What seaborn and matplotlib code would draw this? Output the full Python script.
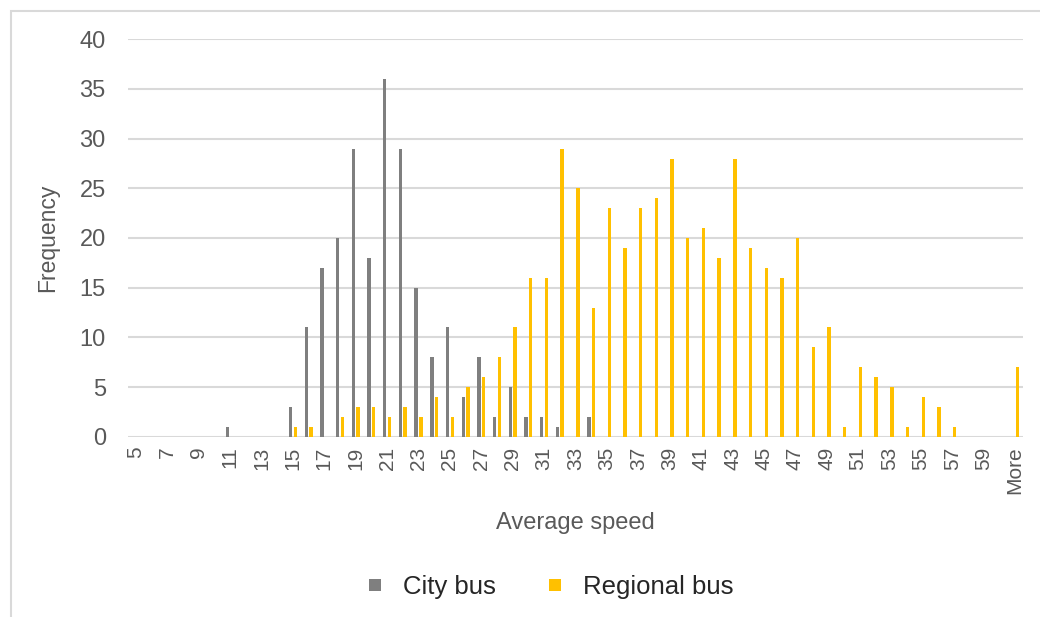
import matplotlib
matplotlib.use("Agg")
import matplotlib.pyplot as plt
from matplotlib.lines import Line2D
from matplotlib.patches import Rectangle
import pandas as pd
import seaborn as sns

# Histogram bins of average speed (km/h), last bin collects everything above 60
speed_bins = [str(v) for v in range(5, 61)] + ["More"]

city_bus = [
    0, 0, 0, 0, 0, 0, 1, 0, 0, 0,      # 5-14
    3, 11, 17, 20, 29, 18, 36, 29, 15, 8,  # 15-24
    11, 4, 8, 2, 5, 2, 2, 1, 0, 2,     # 25-34
    0, 0, 0, 0, 0, 0, 0, 0, 0, 0,      # 35-44
    0, 0, 0, 0, 0, 0, 0, 0, 0, 0,      # 45-54
    0, 0, 0, 0, 0, 0, 0,               # 55-60, More
]

regional_bus = [
    0, 0, 0, 0, 0, 0, 0, 0, 0, 0,      # 5-14
    1, 1, 0, 2, 3, 3, 2, 3, 2, 4,      # 15-24
    2, 5, 6, 8, 11, 16, 16, 29, 25, 13,  # 25-34
    23, 19, 23, 24, 28, 20, 21, 18, 28, 19,  # 35-44
    17, 16, 20, 9, 11, 1, 7, 6, 5, 1,  # 45-54
    4, 3, 1, 0, 0, 0, 7,               # 55-60, More
]

series_names = ["City bus", "Regional bus"]
palette = {"City bus": "#7F7F7F", "Regional bus": "#FFC000"}

df = pd.DataFrame({
    "speed": speed_bins * 2,
    "freq": city_bus + regional_bus,
    "bus": [series_names[0]] * len(speed_bins) + [series_names[1]] * len(speed_bins),
})

sns.set_theme(style="white")
plt.rcParams["font.family"] = ["Liberation Sans", "DejaVu Sans"]

W, H = 1040, 617
fig = plt.figure(figsize=(W / 100, H / 100), dpi=100)
ax = fig.add_axes([128 / W, 1 - 436.7 / H, (1023 - 128) / W, (436.7 - 39.3) / H])

sns.barplot(
    data=df, x="speed", y="freq", hue="bus", order=speed_bins,
    hue_order=series_names, palette=palette, width=0.6, gap=0.28,
    saturation=1, ax=ax, legend=False, linewidth=0,
)

ax.set_xlim(-0.5, len(speed_bins) - 0.5)
ax.set_ylim(0, 40)
ax.set_yticks(range(0, 41, 5))
ax.yaxis.grid(True, color="#D9D9D9", linewidth=1.5)
ax.set_axisbelow(True)
for s in ax.spines.values():
    s.set_visible(False)

ax.set_xticks(range(0, len(speed_bins), 2))
ax.set_xticklabels(speed_bins[::2], rotation=90)
ax.tick_params(axis="x", length=0, pad=7, labelsize=15, labelcolor="#595959")
ax.tick_params(axis="y", length=0, pad=16, labelsize=17, labelcolor="#595959")

ax.set_xlabel("Average speed", fontsize=17, color="#595959")
ax.xaxis.set_label_coords(0.5, (436.7 - 512) / (436.7 - 39.3))
ax.set_ylabel("Frequency", fontsize=16.5, color="#595959")
ax.yaxis.set_label_coords((59 - 128) / (1023 - 128), 0.5)

handles = [
    Line2D([], [], marker="s", linestyle="none", markersize=9,
           markerfacecolor=palette[n], markeredgewidth=0, label=n)
    for n in series_names
]
fig.legend(handles=handles, loc="center", bbox_to_anchor=(548 / W, 1 - 587 / H),
           ncol=2, frameon=False, fontsize=18.5, handlelength=1.0,
           handletextpad=0.6, columnspacing=1.8, labelcolor="#262626")

# chart area frame
fig.patches.append(Rectangle((11 / W, -0.05), 1.1, 1 - 11 / H + 0.05,
                             transform=fig.transFigure, fill=False,
                             edgecolor="#D9D9D9", linewidth=1.5))

fig.savefig("out.png", dpi=100)
